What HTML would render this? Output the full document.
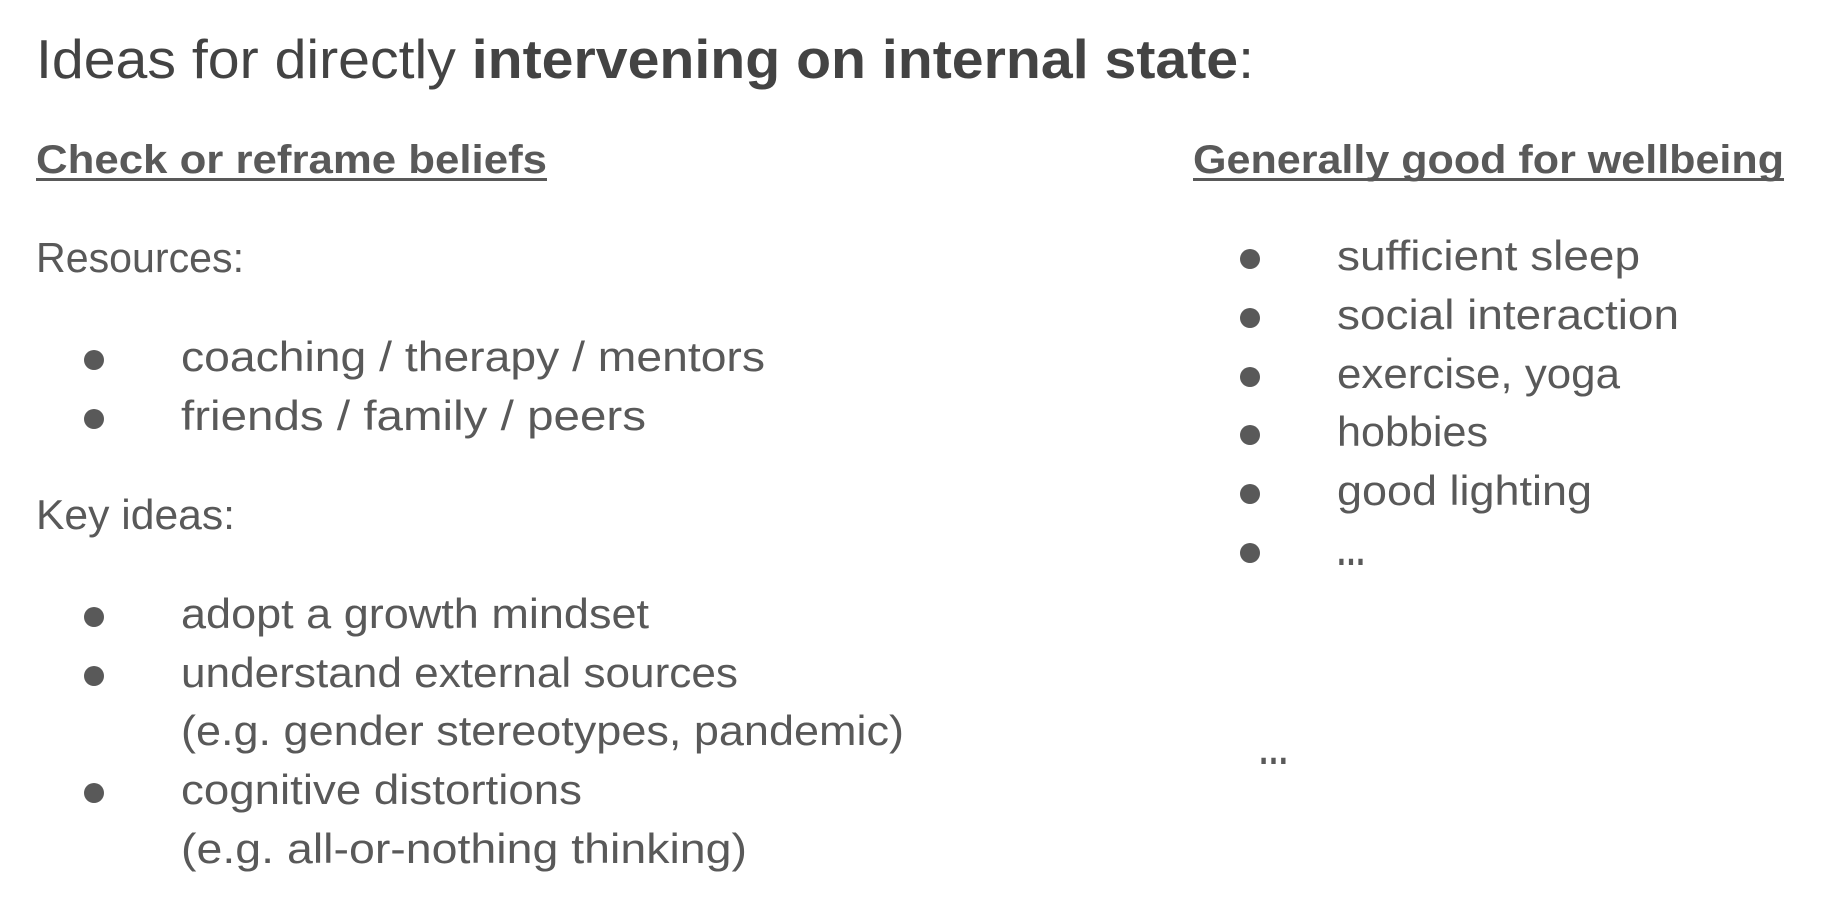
<!DOCTYPE html>
<html><head><meta charset="utf-8"><style>
html,body{margin:0;padding:0;background:#fff;}
svg{display:block;}
text{font-family:"Liberation Sans","DejaVu Sans",sans-serif;fill:#595959;}
</style></head><body>
<svg width="1838" height="908" viewBox="0 0 1838 908" xmlns="http://www.w3.org/2000/svg">
<text x="36" y="78" font-size="55" style="fill:#434343" textLength="1218" lengthAdjust="spacingAndGlyphs">Ideas for directly <tspan font-weight="bold">intervening on internal state</tspan>:</text>

<text x="36" y="173" font-size="40" font-weight="bold" textLength="511" lengthAdjust="spacingAndGlyphs">Check or reframe beliefs</text>
<rect x="36" y="178" width="511" height="3" fill="#595959"/>
<text x="1193" y="173" font-size="40" font-weight="bold" textLength="591" lengthAdjust="spacingAndGlyphs">Generally good for wellbeing</text>
<rect x="1193" y="178" width="591" height="3" fill="#595959"/>

<text x="36" y="272" font-size="42" textLength="208" lengthAdjust="spacingAndGlyphs">Resources:</text>
<circle cx="94" cy="360" r="10" fill="#595959"/>
<text x="181" y="371" font-size="42" textLength="584" lengthAdjust="spacingAndGlyphs">coaching / therapy / mentors</text>
<circle cx="94" cy="419" r="10" fill="#595959"/>
<text x="181" y="430" font-size="42" textLength="465" lengthAdjust="spacingAndGlyphs">friends / family / peers</text>

<text x="36" y="529" font-size="42" textLength="199" lengthAdjust="spacingAndGlyphs">Key ideas:</text>
<circle cx="94" cy="617" r="10" fill="#595959"/>
<text x="181" y="628" font-size="42" textLength="468" lengthAdjust="spacingAndGlyphs">adopt a growth mindset</text>
<circle cx="94" cy="676" r="10" fill="#595959"/>
<text x="181" y="687" font-size="42" textLength="557" lengthAdjust="spacingAndGlyphs">understand external sources</text>
<text x="181" y="745" font-size="42" textLength="723" lengthAdjust="spacingAndGlyphs">(e.g. gender stereotypes, pandemic)</text>
<circle cx="94" cy="793" r="10" fill="#595959"/>
<text x="181" y="804" font-size="42" textLength="401" lengthAdjust="spacingAndGlyphs">cognitive distortions</text>
<text x="181" y="863" font-size="42" textLength="566" lengthAdjust="spacingAndGlyphs">(e.g. all-or-nothing thinking)</text>

<circle cx="1250" cy="259" r="10" fill="#595959"/>
<text x="1337" y="270" font-size="42" textLength="303" lengthAdjust="spacingAndGlyphs">sufficient sleep</text>
<circle cx="1250" cy="318" r="10" fill="#595959"/>
<text x="1337" y="329" font-size="42" textLength="342" lengthAdjust="spacingAndGlyphs">social interaction</text>
<circle cx="1250" cy="377" r="10" fill="#595959"/>
<text x="1337" y="388" font-size="42" textLength="283" lengthAdjust="spacingAndGlyphs">exercise, yoga</text>
<circle cx="1250" cy="435" r="10" fill="#595959"/>
<text x="1337" y="446" font-size="42" textLength="151" lengthAdjust="spacingAndGlyphs">hobbies</text>
<circle cx="1250" cy="494" r="10" fill="#595959"/>
<text x="1337" y="505" font-size="42" textLength="255" lengthAdjust="spacingAndGlyphs">good lighting</text>
<circle cx="1250" cy="553" r="10" fill="#595959"/>
<text x="1336" y="565" font-size="42" font-weight="bold" textLength="30" lengthAdjust="spacingAndGlyphs">…</text>

<text x="1258" y="764" font-size="42" font-weight="bold" textLength="31" lengthAdjust="spacingAndGlyphs">…</text>
</svg>
</body></html>
